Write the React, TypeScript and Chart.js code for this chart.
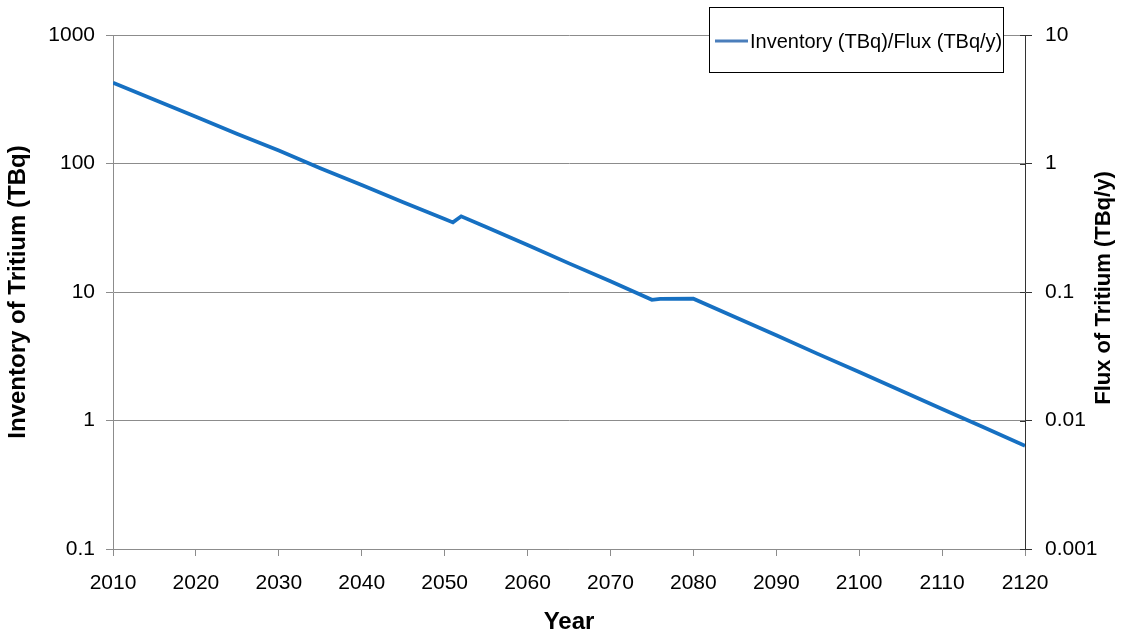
import React, { useEffect, useRef } from 'react';
import { Chart, registerables } from 'chart.js';

Chart.register(...registerables);

const seriesLabel = 'Inventory (TBq)/Flux (TBq/y)';
const rightTitle = 'Flux of Tritium (TBq/y)';
const years = [2010, 2015, 2020, 2025, 2030, 2035, 2040, 2045, 2050, 2051, 2052, 2055, 2060, 2065, 2070, 2075, 2076, 2080, 2085, 2090, 2095, 2100, 2105, 2110, 2115, 2120];
const inventory = [425, 313, 231, 170, 126, 92, 68, 50, 37, 34.8, 38.8, 32, 23.2, 16.7, 12.1, 8.7, 8.85, 8.87, 6.4, 4.6, 3.3, 2.38, 1.71, 1.23, 0.885, 0.635];
const xTicks = [2010, 2020, 2030, 2040, 2050, 2060, 2070, 2080, 2090, 2100, 2110, 2120];
const leftTicks = [0.1, 1, 10, 100, 1000];
const rightTicks = [0.001, 0.01, 0.1, 1, 10];

const FONT = "'Liberation Sans', Arial, sans-serif";
const LINE_COLOR = '#1670c2';
const GRID = '#8c8c8c';

const legendBox = {
  id: 'legendBox',
  afterDraw(chart: any) {
    const ctx = chart.ctx;
    ctx.save();
    ctx.fillStyle = '#ffffff';
    ctx.fillRect(709.5, 7.5, 294, 65);
    ctx.strokeStyle = '#000000';
    ctx.lineWidth = 1;
    ctx.strokeRect(709.5, 7.5, 294, 65);
    ctx.strokeStyle = '#4a7ebb';
    ctx.lineWidth = 3;
    ctx.beginPath();
    ctx.moveTo(715, 41);
    ctx.lineTo(748, 41);
    ctx.stroke();
    ctx.fillStyle = '#000000';
    ctx.font = `20px ${FONT}`;
    ctx.textBaseline = 'middle';
    ctx.textAlign = 'left';
    ctx.fillText(chart.data.datasets[0].label, 750, 42);
    // inner halves of right-axis tick marks
    const yR = chart.scales.yRight;
    ctx.strokeStyle = '#333333';
    ctx.lineWidth = 1;
    yR.ticks.forEach((t: any) => {
      const y = Math.round(yR.getPixelForValue(t.value)) + 0.5;
      ctx.beginPath();
      ctx.moveTo(yR.left - 5, y);
      ctx.lineTo(yR.left, y);
      ctx.stroke();
    });
    // right axis title, reading bottom-to-top
    ctx.translate(1104, 288);
    ctx.rotate(-Math.PI / 2);
    ctx.font = `bold 22px ${FONT}`;
    ctx.textAlign = 'center';
    ctx.textBaseline = 'middle';
    ctx.fillStyle = '#000000';
    ctx.fillText(rightTitle, 0, 0);
    ctx.restore();
  },
};

export default function App() {
  const ref = useRef<HTMLCanvasElement | null>(null);
  useEffect(() => {
    document.body.style.margin = '0';
    if (!ref.current) return;
    const chart = new Chart(ref.current, {
      type: 'line',
      data: {
        datasets: [
          {
            label: seriesLabel,
            data: years.map((x, i) => ({ x, y: inventory[i] })),
            borderColor: LINE_COLOR,
            backgroundColor: LINE_COLOR,
            borderWidth: 3.8,
            pointRadius: 0,
            tension: 0,
            yAxisID: 'y',
          },
        ],
      },
      plugins: [legendBox],
      options: {
        responsive: false,
        animation: false,
        layout: { padding: { top: 35, left: 0, right: 0, bottom: 0 } },
        plugins: { legend: { display: false }, tooltip: { enabled: false } },
        scales: {
          x: {
            type: 'linear',
            min: 2010,
            max: 2120,
            afterBuildTicks: (s: any) => { s.ticks = xTicks.map((v) => ({ value: v })); },
            afterFit: (s: any) => { s.height = 82; },
            ticks: {
              callback: (v: any) => String(v),
              color: '#000',
              font: { family: FONT, size: 21 },
              padding: 15,
              maxRotation: 0,
            },
            grid: { drawOnChartArea: false, color: GRID, tickLength: 7 },
            border: { color: GRID },
            title: {
              display: true,
              text: 'Year',
              color: '#000',
              font: { family: FONT, size: 24, weight: 'bold', lineHeight: 0.7 },
              padding: { top: 0, bottom: 0 },
            },
          },
          y: {
            type: 'logarithmic',
            position: 'left',
            min: 0.1,
            max: 1000,
            afterBuildTicks: (s: any) => { s.ticks = leftTicks.map((v) => ({ value: v })); },
            afterFit: (s: any) => { s.width = 113; },
            ticks: {
              callback: (v: any) => String(v),
              color: '#000',
              font: { family: FONT, size: 21 },
              padding: 11,
            },
            grid: { color: GRID, tickLength: 7 },
            border: { color: GRID },
            title: {
              display: true,
              text: 'Inventory of Tritium (TBq)',
              color: '#000',
              font: { family: FONT, size: 24, weight: 'bold', lineHeight: 1.2 },
              padding: { top: 4, bottom: 0 },
            },
          },
          yRight: {
            type: 'logarithmic',
            position: 'right',
            min: 0.001,
            max: 10,
            afterBuildTicks: (s: any) => { s.ticks = rightTicks.map((v) => ({ value: v })); },
            afterFit: (s: any) => { s.width = 96; },
            ticks: {
              callback: (v: any) => String(v),
              color: '#000',
              font: { family: FONT, size: 21 },
              padding: 13,
            },
            grid: { drawOnChartArea: false, color: '#333333', tickLength: 7 },
            border: { color: '#333333' },
            title: { display: false },
          },
        },
      },
    });
    return () => chart.destroy();
  }, []);
  return (
    <div style={{ position: 'fixed', left: 0, top: 0, width: 1121, height: 631, background: '#fff' }}>
      <canvas ref={ref} width={1121} height={631} style={{ display: 'block' }} />
    </div>
  );
}
